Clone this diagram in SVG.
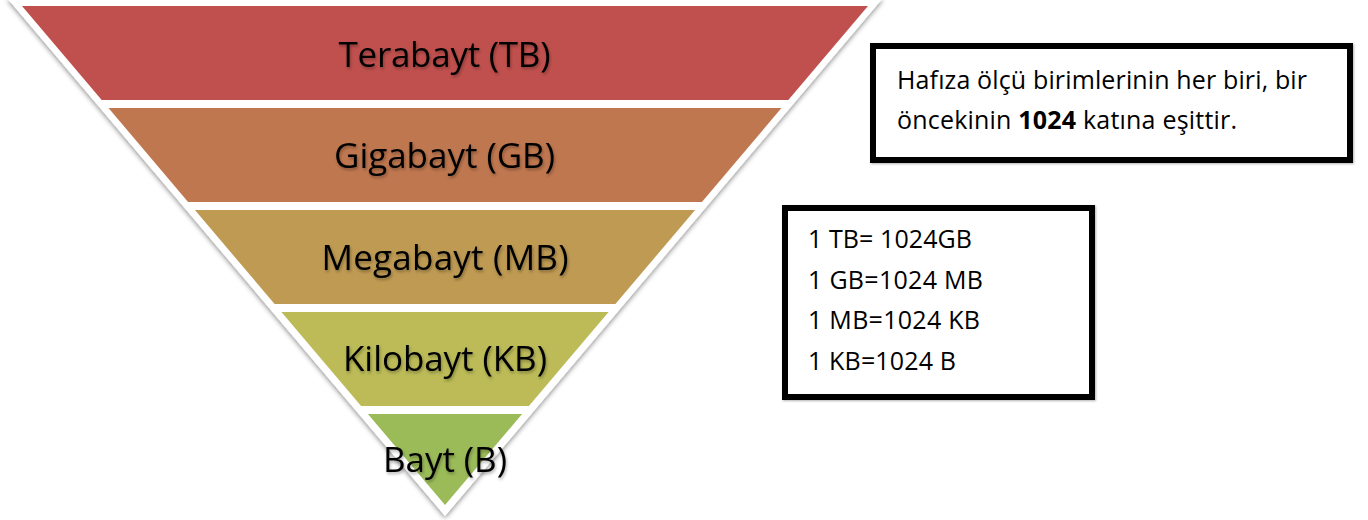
<svg xmlns="http://www.w3.org/2000/svg" width="1368" height="520" viewBox="0 0 1368 520">
  <defs>
    <filter id="shadow" x="-10%" y="-10%" width="120%" height="120%">
      <feDropShadow dx="0" dy="2" stdDeviation="2.5" flood-color="#000" flood-opacity="0.45"/>
    </filter>
    <filter id="tshadow" x="-10%" y="-20%" width="120%" height="150%">
      <feDropShadow dx="1" dy="2" stdDeviation="1.5" flood-color="#000" flood-opacity="0.3"/>
    </filter>
    <filter id="bshadow" x="-5%" y="-5%" width="110%" height="110%">
      <feDropShadow dx="1" dy="1" stdDeviation="0.8" flood-color="#000" flood-opacity="0.3"/>
    </filter>
  </defs>
  <style>
    .lbl { font-family: "Open Sans", "Noto Sans", sans-serif; font-size: 35px; fill: #000; text-anchor: middle; }
    .box { fill: #fff; stroke: #000; stroke-width: 6; }
    .txt { font-family: "Open Sans", "Noto Sans", sans-serif; font-size: 25px; fill: #000; }
  </style>
  <rect width="1368" height="520" fill="#fff"/>

  <g id="pyramid">
    <polygon points="7,-2 883,-2 445,516" fill="#fff" filter="url(#shadow)"/>
  </g>

  <g id="band-tb">
    <polygon points="22,6 868,6 788.3,100 101.7,100" fill="#C0504D"/>
    <text class="lbl" x="444.5" y="66.5" textLength="212" filter="url(#tshadow)">Terabayt (TB)</text>
  </g>
  <g id="band-gb">
    <polygon points="108.5,108 781.5,108 701.9,202 188.1,202" fill="#BF774F"/>
    <text class="lbl" x="444.5" y="168" textLength="221" filter="url(#tshadow)">Gigabayt (GB)</text>
  </g>
  <g id="band-mb">
    <polygon points="194.9,210 695.1,210 615.4,304 274.6,304" fill="#BE9A53"/>
    <text class="lbl" x="445" y="269.5" textLength="247" filter="url(#tshadow)">Megabayt (MB)</text>
  </g>
  <g id="band-kb">
    <polygon points="281.4,312 608.6,312 528.9,406 361.1,406" fill="#BCBB58"/>
    <text class="lbl" x="445" y="371" textLength="204" filter="url(#tshadow)">Kilobayt (KB)</text>
  </g>
  <g id="band-b">
    <polygon points="367.9,414 522.1,414 445,505" fill="#9BBB59"/>
    <text class="lbl" x="445" y="472" textLength="124" filter="url(#tshadow)">Bayt (B)</text>
  </g>

  <g id="note-box">
    <rect class="box" x="873" y="46" width="477" height="114" filter="url(#bshadow)"/>
    <text class="txt" x="897" y="88.5" textLength="410">Hafıza ölçü birimlerinin her biri, bir</text>
    <text class="txt" x="897" y="128.5" textLength="340">öncekinin <tspan font-weight="bold">1024</tspan> katına eşittir.</text>
  </g>

  <g id="conversion-box">
    <rect class="box" x="785" y="208" width="307" height="189" filter="url(#bshadow)"/>
    <text class="txt" x="808" y="248" textLength="164">1 TB= 1024GB</text>
    <text class="txt" x="808" y="288.5" textLength="175">1 GB=1024 MB</text>
    <text class="txt" x="808" y="329" textLength="172">1 MB=1024 KB</text>
    <text class="txt" x="808" y="370" textLength="148">1 KB=1024 B</text>
  </g>

  <g id="connectors"></g>
</svg>
